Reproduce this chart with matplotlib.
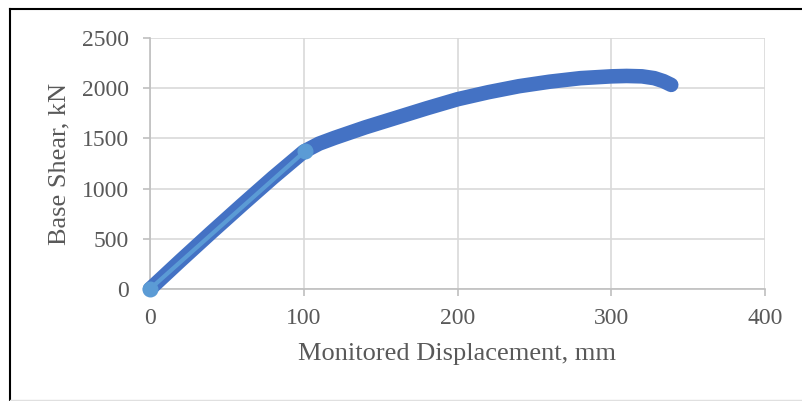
import matplotlib.pyplot as plt
from matplotlib.lines import Line2D

# Pushover curve
disp = [0, 20, 40, 60, 80, 100, 110, 120, 140, 160, 180, 200, 220, 240, 260, 280, 300, 310, 320, 328, 334, 339]
shear = [0, 285, 565, 840, 1110, 1368, 1448, 1505, 1610, 1705, 1800, 1890, 1960, 2020, 2065, 2100, 2118, 2122, 2118, 2100, 2070, 2033]

# Bilinear idealisation, first branch
ideal_disp = [0, 101]
ideal_shear = [0, 1375]

plt.rcParams['font.family'] = ['Liberation Serif', 'DejaVu Serif']
text_color = '#595959'

fig = plt.figure(figsize=(8.02, 4.01), dpi=100)
ax = fig.add_axes([150 / 802, 1 - 289 / 401, 615 / 802, 251 / 401])

ax.plot(disp, shear, color='#4472C4', linewidth=10.5, solid_capstyle='round',
        solid_joinstyle='round', zorder=3, clip_on=False)
ax.plot(ideal_disp, ideal_shear, color='#5B9BD5', linewidth=3, marker='o',
        markersize=10.5, zorder=4, clip_on=False)

ax.set_xlim(0, 400)
ax.set_ylim(0, 2500)
ax.set_xticks([0, 100, 200, 300, 400])
ax.set_yticks([0, 500, 1000, 1500, 2000, 2500])
ax.grid(True, color='#d9d9d9', linewidth=1.2)
ax.set_axisbelow(True)
for side in ['top', 'right']:
    ax.spines[side].set_visible(False)
for side in ['left', 'bottom']:
    ax.spines[side].set_color('#bfbfbf')
    ax.spines[side].set_linewidth(1.2)
ax.tick_params(colors='#bfbfbf', labelcolor=text_color, labelsize=17, length=5, width=1.2)
ax.tick_params(axis='y', pad=10)
ax.tick_params(axis='x', pad=9)

ax.set_xlabel('Monitored Displacement, mm', fontsize=19, color=text_color, labelpad=10)
ax.set_ylabel('Base Shear, kN', fontsize=19, color=text_color, labelpad=8)

# chart frame
fig.add_artist(Line2D([10 / 802, 10 / 802], [0, 1 - 9 / 401], color='black', linewidth=1.5))
fig.add_artist(Line2D([10 / 802, 1], [1 - 9 / 401, 1 - 9 / 401], color='black', linewidth=1.5))
fig.add_artist(Line2D([10 / 802, 1], [1 / 401, 1 / 401], color='#e0e0e0', linewidth=1))

fig.savefig('out.png', dpi=100)
